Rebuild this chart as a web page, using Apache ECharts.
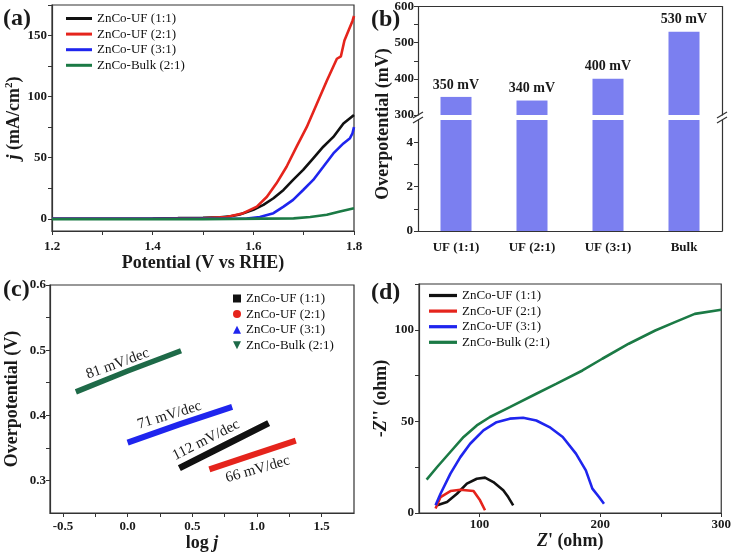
<!DOCTYPE html>
<html><head><meta charset="utf-8">
<script src="https://cdn.jsdelivr.net/npm/echarts@6/dist/echarts.min.js"></script>
<style>html,body{margin:0;padding:0;background:#fff}#c{width:734px;height:554px}</style>
</head><body><div id="c"></div>
<script>
// ---------- data ----------
const seriesNames = ['ZnCo-UF (1:1)', 'ZnCo-UF (2:1)', 'ZnCo-UF (3:1)', 'ZnCo-Bulk (2:1)'];

// (a) LSV curves: [potential V vs RHE, j mA/cm2]
const lsv11 = [[1.2,0],[1.3,0],[1.4,0.2],[1.45,0.5],[1.5,0.9],[1.534,1.3],[1.555,2.1],[1.573,3.5],[1.6,7.3],[1.62,11.4],[1.64,16.8],[1.66,23.6],[1.679,31.8],[1.699,40],[1.719,49.5],[1.739,59],[1.759,67],[1.779,78],[1.8,85]];
const lsv21 = [[1.2,0],[1.4,0],[1.5,0.3],[1.547,1.4],[1.58,4.6],[1.607,10],[1.627,18],[1.646,29],[1.666,42.6],[1.686,59],[1.706,75],[1.726,94],[1.746,113],[1.766,131],[1.774,133],[1.781,146],[1.79,155],[1.797,162],[1.8,166]];
const lsv31 = [[1.2,0],[1.5,0],[1.587,0.2],[1.613,1.4],[1.64,4.6],[1.66,10],[1.679,15.5],[1.699,23.6],[1.719,31.8],[1.739,42.6],[1.759,53.5],[1.779,61.7],[1.792,66],[1.797,70],[1.8,75]];
const lsvBulk = [[1.2,-0.3],[1.5,-0.3],[1.68,0.3],[1.713,1.4],[1.746,3.3],[1.772,6],[1.8,8.7]];

// (b) overpotential bars
const barCategories = ['UF (1:1)', 'UF (2:1)', 'UF (3:1)', 'Bulk'];
const overpotentials = [350, 340, 400, 530];

// (c) Tafel plots: [log j, overpotential V]
const tafel11 = [[0.40,0.319],[0.75,0.354],[1.09,0.388]];
const tafel21 = [[0.632,0.317],[0.95,0.338],[1.30,0.361]];
const tafel31 = [[0.0,0.358],[0.4,0.386],[0.808,0.413]];
const tafelBulk = [[-0.40,0.436],[0.0,0.468],[0.413,0.499]];
const tafelSlopes = ['112 mV/dec', '66 mV/dec', '71 mV/dec', '81 mV/dec'];

// (d) Nyquist plots: [Z' ohm, -Z'' ohm]
const eis11 = [[65,4.2],[73.2,6],[81.4,10.5],[89.6,16],[97.8,18.7],[104.6,19.3],[111.5,16.9],[119.7,12.4],[123.8,8.7],[127.9,4.2]];
const eis21 = [[63.7,2.4],[67.8,8.7],[76,12],[84.2,12.7],[95.1,12],[100.5,6.9],[104.6,1.5]];
const eis31 = [[63.7,4.2],[67.8,10.5],[76,21.5],[84.2,30.5],[92.3,37.8],[103.3,45.1],[114.2,49.6],[125.1,51.5],[136.1,52],[147,50.5],[157.9,46.9],[168.9,41.5],[179.8,32.4],[188,23.3],[193.4,13.3],[198.9,8.7],[203,5.1]];
const eisBulk = [[56.3,18.2],[65,25.1],[75.9,33.3],[86.9,41.5],[97.8,47.8],[108.7,52.4],[125.1,57.8],[147,65.1],[163.4,70.5],[185.2,77.8],[201.6,84.2],[223.5,92.4],[245.4,99.6],[261.7,104.2],[278.1,108.7],[300,110.9]];

// tick labels / ticks
const aXLabels = [1.2, 1.4, 1.6, 1.8];
const aXTicks = [1.2, 1.3, 1.4, 1.5, 1.6, 1.7, 1.8];
const aYLabels = [0, 50, 100, 150];
const aYTicks = [0, 25, 50, 75, 100, 125, 150, 175];
const bUpLabels = [300, 400, 500, 600];
const bUpTicks = [300, 350, 400, 450, 500, 550, 600];
const bLowLabels = [0, 2, 4];
const bLowTicks = [0, 1, 2, 3, 4];
const cXLabels = [-0.5, 0, 0.5, 1, 1.5];
const cXTicks = [-0.5, -0.25, 0, 0.25, 0.5, 0.75, 1, 1.25, 1.5];
const cYLabels = [0.3, 0.4, 0.5, 0.6];
const cYTicks = [0.3, 0.35, 0.4, 0.45, 0.5, 0.55, 0.6];
const dXLabels = [100, 200, 300];
const dXTicks = [100, 150, 200, 250, 300];
const dYLabels = [0, 50, 100];
const dYTicks = [0, 25, 50, 75, 100, 125];

// ---------- styling ----------
const SERIF = 'Liberation Serif';
const AX = '#333';
const colsA = ['#111111', '#e5241c', '#1f25ee', '#1b7a45'];
const colsC = ['#111111', '#e5241c', '#1f25ee', '#1e6a48'];
const LINE_ICON = 'path://M0,0H26V3H0Z';

function valAxis(gridIndex, min, max, labels, ticks, fmt, margin, extra) {
  return Object.assign({
    type: 'value', gridIndex: gridIndex, min: min, max: max,
    splitLine: { show: false },
    axisLine: { show: true, onZero: false, lineStyle: { color: AX, width: 1.2 } },
    axisTick: { show: true, inside: false, length: 4, customValues: ticks, lineStyle: { color: AX, width: 1 } },
    axisLabel: { customValues: labels, formatter: fmt, fontFamily: SERIF, fontWeight: 'bold', fontSize: 13, color: '#1a1a1a', margin: margin }
  }, extra || {});
}
const nameStyle = { fontFamily: SERIF, fontWeight: 'bold', fontSize: 18, color: '#1a1a1a' };
const italicRich = { fontFamily: SERIF, fontWeight: 'bold', fontStyle: 'italic', fontSize: 18, color: '#1a1a1a' };
const f1 = v => v.toFixed(1);
const f0 = v => String(Math.round(v));

function lineS(name, data, xi, yi, color, width) {
  return { type: 'line', name: name, data: data, xAxisIndex: xi, yAxisIndex: yi, symbol: 'none', showSymbol: false,
    lineStyle: { color: color, width: width }, itemStyle: { color: color }, animation: false, z: 3 };
}

const legendText = { fontFamily: SERIF, fontSize: 13, color: '#111', lineHeight: 13 };

const option = {
  animation: false,
  backgroundColor: '#fff',
  grid: [
    { left: 52, top: 5, width: 302, height: 226, show: true, borderColor: AX, borderWidth: 1.2, backgroundColor: 'transparent' },
    { left: 418, top: 4, width: 304, height: 111 },
    { left: 418, top: 120, width: 304, height: 111 },
    { left: 50, top: 285, width: 304, height: 228, show: true, borderColor: AX, borderWidth: 1.2, backgroundColor: 'transparent' },
    { left: 419, top: 284, width: 304, height: 229, show: true, borderColor: AX, borderWidth: 1.2, backgroundColor: 'transparent' }
  ],
  xAxis: [
    valAxis(0, 1.2, 1.8, aXLabels, aXTicks, f1, 9, { name: 'Potential (V vs RHE)', nameLocation: 'middle', nameGap: 23, nameTextStyle: nameStyle }),
    { type: 'category', gridIndex: 1, data: barCategories, position: 'top', axisLine: { show: true, lineStyle: { color: AX, width: 1.2 } }, axisTick: { show: false }, axisLabel: { show: false } },
    { type: 'category', gridIndex: 2, data: barCategories, position: 'bottom', axisLine: { show: true, lineStyle: { color: AX, width: 1.2 } }, axisTick: { show: false },
      axisLabel: { fontFamily: SERIF, fontWeight: 'bold', fontSize: 13, color: '#1a1a1a', margin: 10 } },
    valAxis(3, -0.6, 1.75, cXLabels, cXTicks, f1, 7, { name: 'log {i|j}', nameLocation: 'middle', nameGap: 21,
      nameTextStyle: Object.assign({}, nameStyle, { rich: { i: italicRich } }) }),
    valAxis(4, 50, 300, dXLabels, dXTicks, f0, 5, { name: "{i|Z}' (ohm)", nameLocation: 'middle', nameGap: 17,
      nameTextStyle: Object.assign({}, nameStyle, { rich: { i: italicRich } }) })
  ],
  yAxis: [
    valAxis(0, -10, 175, aYLabels, aYTicks, f0, 5, { name: '{i|j} (mA/cm{s|2})', nameLocation: 'middle', nameGap: 28, nameRotate: 90,
      nameTextStyle: Object.assign({}, nameStyle, { rich: {
        i: italicRich,
        s: { fontFamily: SERIF, fontWeight: 'bold', fontSize: 11, color: '#1a1a1a', padding: [0, 0, 9, 0] } } }) }),
    valAxis(1, 300, 600, bUpLabels, bUpTicks, f0, 4),
    valAxis(2, 0, 5, bLowLabels, bLowTicks, f0, 5),
    valAxis(3, 0.25, 0.6, cYLabels, cYTicks, f1, 4, { name: 'Overpotential (V)', nameLocation: 'middle', nameGap: 29, nameRotate: 90, nameTextStyle: nameStyle }),
    valAxis(4, 0, 125, dYLabels, dYTicks, f0, 5, { name: "-{i|Z}'' (ohm)", nameLocation: 'middle', nameGap: 27, nameRotate: 90,
      nameTextStyle: Object.assign({}, nameStyle, { rich: { i: italicRich } }) }),
    { type: 'value', gridIndex: 1, position: 'right', min: 300, max: 600, splitLine: { show: false }, axisLine: { show: true, lineStyle: { color: AX, width: 1.2 } }, axisTick: { show: false }, axisLabel: { show: false } },
    { type: 'value', gridIndex: 2, position: 'right', min: 0, max: 5, splitLine: { show: false }, axisLine: { show: true, lineStyle: { color: AX, width: 1.2 } }, axisTick: { show: false }, axisLabel: { show: false } }
  ],
  legend: [
    { orient: 'vertical', left: 66, top: 12, padding: 0, itemGap: 2.6, itemWidth: 26, itemHeight: 13, textStyle: legendText,
      data: seriesNames.map((n, i) => ({ name: n, icon: LINE_ICON, itemStyle: { color: colsA[i] } })) },
    { orient: 'vertical', left: 233, top: 292, padding: 0, itemGap: 2.6, itemWidth: 8, itemHeight: 8, textStyle: legendText,
      data: [
        { name: seriesNames[0], icon: 'rect', itemStyle: { color: colsC[0] } },
        { name: seriesNames[1], icon: 'circle', itemStyle: { color: colsC[1] } },
        { name: seriesNames[2], icon: 'triangle', itemStyle: { color: colsC[2] } },
        { name: seriesNames[3], icon: 'path://M0,0L10,0L5,10Z', itemStyle: { color: colsC[3] } }
      ] },
    { orient: 'vertical', left: 429, top: 289, padding: 0, itemGap: 2.6, itemWidth: 28, itemHeight: 13, textStyle: legendText,
      data: seriesNames.map((n, i) => ({ name: n, icon: LINE_ICON, itemStyle: { color: colsA[i] } })) }
  ],
  series: [
    lineS(seriesNames[0], lsv11, 0, 0, colsA[0], 2.6),
    lineS(seriesNames[1], lsv21, 0, 0, colsA[1], 2.6),
    lineS(seriesNames[2], lsv31, 0, 0, colsA[2], 2.6),
    lineS(seriesNames[3], lsvBulk, 0, 0, colsA[3], 2.6),
    { type: 'bar', data: overpotentials, xAxisIndex: 1, yAxisIndex: 1, barWidth: 31, clip: true,
      itemStyle: { color: '#7b7ff0' },
      label: { show: true, position: 'top', distance: 5, formatter: '{c} mV', fontFamily: SERIF, fontWeight: 'bold', fontSize: 14, color: '#1a1a1a' } },
    { type: 'bar', data: overpotentials, xAxisIndex: 2, yAxisIndex: 2, barWidth: 31, clip: true, itemStyle: { color: '#7b7ff0' } },
    lineS(seriesNames[0], tafel11, 3, 3, colsC[0], 6.5),
    lineS(seriesNames[1], tafel21, 3, 3, colsC[1], 6),
    lineS(seriesNames[2], tafel31, 3, 3, colsC[2], 6),
    lineS(seriesNames[3], tafelBulk, 3, 3, colsC[3], 5.5),
    lineS(seriesNames[0], eis11, 4, 4, colsA[0], 2.6),
    lineS(seriesNames[1], eis21, 4, 4, colsA[1], 2.6),
    lineS(seriesNames[2], eis31, 4, 4, colsA[2], 2.6),
    lineS(seriesNames[3], eisBulk, 4, 4, colsA[3], 2.6)
  ]
};

const chart = echarts.init(document.getElementById('c'), null, { renderer: 'canvas' });
chart.setOption(option);

// annotations and panel letters
const panelFont = 'bold 24px "Liberation Serif"';
function txt(text, x, y, font, rot, align) {
  return { type: 'text', x: x, y: y, rotation: rot || 0, z: 10,
    style: { text: text, font: font, fill: '#1a1a1a', textAlign: align || 'center', textVerticalAlign: 'middle' } };
}
const slopeAnchors = [[0.607, 0.362, 27], [1.006, 0.317, 16], [0.323, 0.400, 17], [-0.077, 0.479, 20]];
const slopeTexts = tafelSlopes.map((t, i) => {
  const p = chart.convertToPixel({ gridIndex: 3 }, [slopeAnchors[i][0], slopeAnchors[i][1]]);
  return txt(t, p[0], p[1], '15px "Liberation Serif"', slopeAnchors[i][2] * Math.PI / 180);
});
function brk(x, y) {
  return [
    { type: 'line', shape: { x1: x - 5, y1: y + 1, x2: x + 5, y2: y - 5 }, style: { stroke: AX, lineWidth: 1.2 }, z: 10 },
    { type: 'line', shape: { x1: x - 5, y1: y + 6, x2: x + 5, y2: y }, style: { stroke: AX, lineWidth: 1.2 }, z: 10 }
  ];
}
chart.setOption({
  graphic: [
    txt('(a)', 3, 19, panelFont, 0, 'left'),
    txt('(b)', 371, 20, panelFont, 0, 'left'),
    txt('(c)', 3, 290, panelFont, 0, 'left'),
    txt('(d)', 371, 293, panelFont, 0, 'left'),
    txt('Overpotential (mV)', 383, 124, 'bold 18px "Liberation Serif"', Math.PI / 2)
  ].concat(slopeTexts, brk(418, 117), brk(722, 117))
});
</script></body></html>
